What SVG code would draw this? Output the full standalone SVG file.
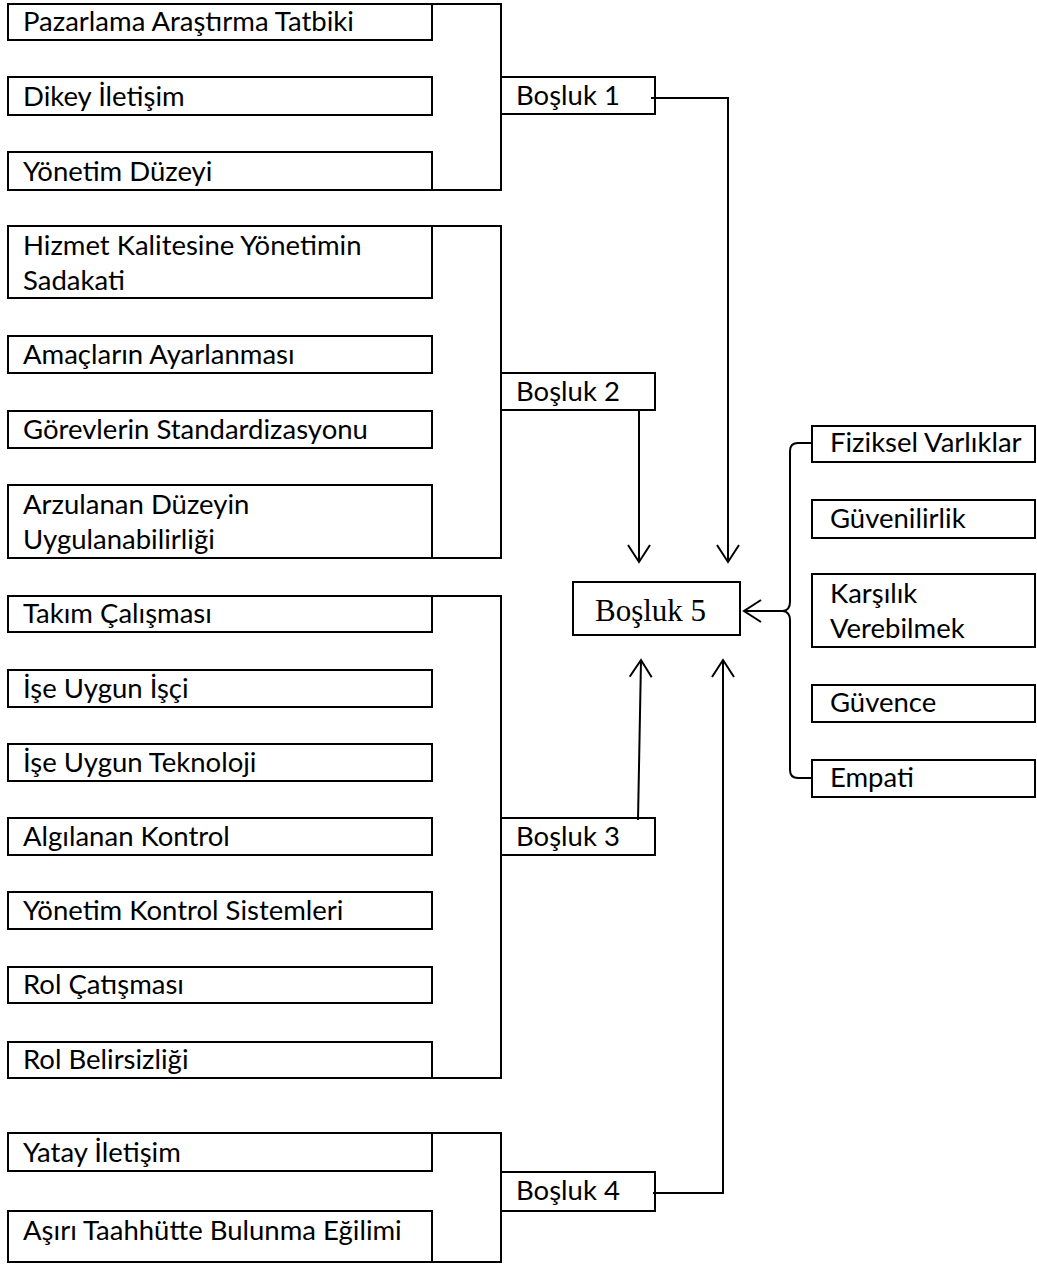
<svg xmlns="http://www.w3.org/2000/svg" width="1037" height="1264" viewBox="0 0 1037 1264">
  <defs>
    <style>
      .box { fill: #fff; stroke: #000; stroke-width: 2; }
      .brk { fill: none; stroke: #000; stroke-width: 2; }
      .lbl { font-family: Lato, "Open Sans", "Liberation Sans", sans-serif; font-size: 27.5px; fill: #000; }
      .gap5 { font-family: "Liberation Serif", "Times New Roman", serif; font-size: 31px; fill: #000; }
      .conn { fill: none; stroke: #000; stroke-width: 2; }
    </style>
    <marker id="arrow" markerUnits="userSpaceOnUse" markerWidth="24" markerHeight="26" refX="20" refY="12" orient="auto">
      <path d="M3,1 L20,12 L3,23" fill="none" stroke="#000" stroke-width="2"/>
    </marker>
  </defs>

  <!-- group 1 -->
  <g id="group1">
    <path class="brk" d="M432,4 H501 V190 H432"/>
    <g id="n-pazarlama"><rect class="box" x="8" y="4" width="424" height="36"/><text class="lbl" x="23" y="31">Pazarlama Araştırma Tatbiki</text></g>
    <g id="n-dikey"><rect class="box" x="8" y="77" width="424" height="38"/><text class="lbl" x="23" y="106">Dikey İletişim</text></g>
    <g id="n-yonetim-duzeyi"><rect class="box" x="8" y="152" width="424" height="38"/><text class="lbl" x="23" y="181">Yönetim Düzeyi</text></g>
  </g>

  <!-- group 2 -->
  <g id="group2">
    <path class="brk" d="M432,226 H501 V558 H432"/>
    <g id="n-hizmet"><rect class="box" x="8" y="226" width="424" height="72"/><text class="lbl" x="23" y="255">Hizmet Kalitesine Yönetimin<tspan x="23" y="290">Sadakati</tspan></text></g>
    <g id="n-amaclar"><rect class="box" x="8" y="336" width="424" height="37"/><text class="lbl" x="23" y="364">Amaçların Ayarlanması</text></g>
    <g id="n-gorevler"><rect class="box" x="8" y="411" width="424" height="37"/><text class="lbl" x="23" y="439">Görevlerin Standardizasyonu</text></g>
    <g id="n-arzulanan"><rect class="box" x="8" y="485" width="424" height="73"/><text class="lbl" x="23" y="514">Arzulanan Düzeyin<tspan x="23" y="549">Uygulanabilirliği</tspan></text></g>
  </g>

  <!-- group 3 -->
  <g id="group3">
    <path class="brk" d="M432,596 H501 V1078 H432"/>
    <g id="n-takim"><rect class="box" x="8" y="596" width="424" height="36"/><text class="lbl" x="23" y="623">Takım Çalışması</text></g>
    <g id="n-isci"><rect class="box" x="8" y="670" width="424" height="37"/><text class="lbl" x="23" y="698">İşe Uygun İşçi</text></g>
    <g id="n-teknoloji"><rect class="box" x="8" y="744" width="424" height="37"/><text class="lbl" x="23" y="772">İşe Uygun Teknoloji</text></g>
    <g id="n-algilanan"><rect class="box" x="8" y="818" width="424" height="37"/><text class="lbl" x="23" y="846">Algılanan Kontrol</text></g>
    <g id="n-kontrol-sist"><rect class="box" x="8" y="892" width="424" height="37"/><text class="lbl" x="23" y="920">Yönetim Kontrol Sistemleri</text></g>
    <g id="n-rol-catisma"><rect class="box" x="8" y="967" width="424" height="36"/><text class="lbl" x="23" y="994">Rol Çatışması</text></g>
    <g id="n-rol-belirsiz"><rect class="box" x="8" y="1042" width="424" height="36"/><text class="lbl" x="23" y="1069">Rol Belirsizliği</text></g>
  </g>

  <!-- group 4 -->
  <g id="group4">
    <path class="brk" d="M432,1133 H501 V1262 H432"/>
    <g id="n-yatay"><rect class="box" x="8" y="1133" width="424" height="38"/><text class="lbl" x="23" y="1162">Yatay İletişim</text></g>
    <g id="n-asiri"><rect class="box" x="8" y="1211" width="424" height="51"/><text class="lbl" x="23" y="1240">Aşırı Taahhütte Bulunma Eğilimi</text></g>
  </g>

  <!-- gap boxes -->
  <g id="n-bosluk1"><rect class="box" x="501" y="77" width="154" height="37"/><text class="lbl" x="516" y="105">Boşluk 1</text></g>
  <g id="n-bosluk2"><rect class="box" x="501" y="373" width="154" height="37"/><text class="lbl" x="516" y="401">Boşluk 2</text></g>
  <g id="n-bosluk3"><rect class="box" x="501" y="818" width="154" height="37"/><text class="lbl" x="516" y="846">Boşluk 3</text></g>
  <g id="n-bosluk4"><rect class="box" x="501" y="1172" width="154" height="39"/><text class="lbl" x="516" y="1200">Boşluk 4</text></g>
  <g id="n-bosluk5"><rect class="box" x="573" y="582" width="167" height="53"/><text class="gap5" x="595" y="621">Boşluk 5</text></g>

  <!-- service quality dimensions -->
  <g id="n-fiziksel"><rect class="box" x="812" y="426" width="223" height="36"/><text class="lbl" x="830" y="452">Fiziksel Varlıklar</text></g>
  <g id="n-guvenilirlik"><rect class="box" x="812" y="500" width="223" height="38"/><text class="lbl" x="830" y="528">Güvenilirlik</text></g>
  <g id="n-karsilik"><rect class="box" x="812" y="574" width="223" height="73"/><text class="lbl" x="830" y="603">Karşılık<tspan x="830" y="638">Verebilmek</tspan></text></g>
  <g id="n-guvence"><rect class="box" x="812" y="685" width="223" height="37"/><text class="lbl" x="830" y="712">Güvence</text></g>
  <g id="n-empati"><rect class="box" x="812" y="760" width="223" height="37"/><text class="lbl" x="830" y="787">Empati</text></g>

  <!-- connectors -->
  <g id="connectors">
    <path class="conn" d="M651,98 H728 V562" marker-end="url(#arrow)"/>
    <path class="conn" d="M639,410 V562" marker-end="url(#arrow)"/>
    <path class="conn" d="M638,820 L641,660" marker-end="url(#arrow)"/>
    <path class="conn" d="M653,1193 H723 V660" marker-end="url(#arrow)"/>
    <path class="conn" d="M812,443 H798 Q790,443 790,451 V602 Q790,610 783,611 Q790,612 790,620 V770 Q790,778 798,778 H812"/>
    <path class="conn" d="M784,611 H744" marker-end="url(#arrow)"/>
  </g>
</svg>
